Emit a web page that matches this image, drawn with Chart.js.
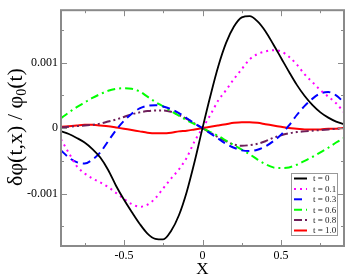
<!DOCTYPE html>
<html>
<head>
<meta charset="utf-8">
<script src="https://cdn.jsdelivr.net/npm/chart.js@4"></script>
<style>
html,body{margin:0;padding:0;background:#fff;}
</style>
</head>
<body>
<canvas id="chart" width="346" height="277"></canvas>
<script>
// x positions of the read-off points
const xs = [-0.9,-0.85,-0.8,-0.75,-0.7,-0.65,-0.6,-0.55,-0.5,-0.45,-0.4,-0.35,-0.3,-0.25,-0.2,-0.15,-0.1,-0.05,0,
  0.05,0.1,0.15,0.2,0.25,0.3,0.35,0.4,0.45,0.5,0.55,0.6,0.65,0.7,0.75,0.8,0.85,0.9];

const t0 = [-0.00005,-0.00009,-0.00015,-0.00022,-0.00032,-0.00045,-0.00064,-0.00088,-0.00109,-0.00128,-0.00146,-0.00161,-0.00169,-0.0017,-0.00157,-0.00133,-0.00097,-0.00051,0,
  0.00049,0.00094,0.0013,0.00155,0.00169,0.00171,0.00163,0.00148,0.00128,0.00107,0.00086,0.00066,0.00049,0.00035,0.00024,0.00016,0.0001,0.00006];
const t01 = [-0.00017,-0.00038,-0.00058,-0.00069,-0.00077,-0.00083,-0.0009,-0.00099,-0.00108,-0.00116,-0.0012,-0.00117,-0.00107,-0.00092,-0.00077,-0.00063,-0.00045,-0.0002,0,
  0.0002,0.00042,0.00058,0.00075,0.0009,0.00105,0.00113,0.00117,0.00119,0.00117,0.00109,0.00097,0.00082,0.0007,0.00058,0.00048,0.00038,0.00024];
const t03 = [-0.00034,-0.00045,-0.00052,-0.00054,-0.00048,-0.00037,-0.0002,-0.00003,0.00011,0.00022,0.0003,0.00034,0.00035,0.00033,0.00029,0.00023,0.00015,0.00007,0,
  -0.00008,-0.00016,-0.00024,-0.0003,-0.00034,-0.00035,-0.00033,-0.00028,-0.0002,-0.0001,0.00004,0.0002,0.00034,0.00045,0.00053,0.00055,0.0005,0.00039];
const t06 = [0.00015,0.00024,0.00032,0.00039,0.00046,0.00052,0.00057,0.0006,0.00061,0.0006,0.00056,0.00048,0.0004,0.00033,0.00026,0.00019,0.00012,0.00006,0,
  -0.00006,-0.00012,-0.00019,-0.00026,-0.00033,-0.0004,-0.00048,-0.00055,-0.0006,-0.00061,-0.0006,-0.00056,-0.0005,-0.00044,-0.00037,-0.0003,-0.00022,-0.00015];
const t08 = [0.00001,0.00002,0.00003,0.00004,0.00005,0.00007,0.0001,0.00013,0.00017,0.00021,0.00024,0.00026,0.00027,0.00027,0.00025,0.0002,0.00014,0.00007,0,
  -0.00007,-0.00014,-0.0002,-0.00025,-0.00027,-0.00026,-0.00024,-0.0002,-0.00015,-0.00011,-0.00008,-0.00006,-0.00005,-0.00004,-0.00003,-0.00002,-0.00001,0];
const t10 = [0.00002,0.00003,0.00004,0.00005,0.00005,0.00004,0.00003,0.00001,-0.00001,-0.00003,-0.00005,-0.00007,-0.00008,-0.00008,-0.00007,-0.00005,-0.00004,-0.00002,0,
  0.00002,0.00004,0.00006,0.00008,0.00009,0.00009,0.00008,0.00006,0.00004,0.00002,0,-0.00001,-0.00002,-0.00002,-0.00002,-0.00001,-0.00001,0];

const labels = ["t = 0","t = 0.1","t = 0.3","t = 0.6","t = 0.8","t = 1.0"];
const xMajor = [-0.5,0,0.5];
const xMinor = [-0.75,-0.25,0.25,0.75];
const yMajor = [-0.001,0,0.001];
const yMinor = [-0.0015,-0.0005,0.0005,0.0015];

function pts(arr){ return arr.map((v,i)=>({x:xs[i],y:v})); }

const serif = "'Liberation Serif','Times New Roman',serif";

const deco = {
  id:'deco',
  afterDatasetsDraw(chart){
    const {ctx, chartArea:a, scales:{x,y}} = chart;
    ctx.save();
    ctx.strokeStyle='#8a8a8a';
    ctx.lineWidth=1;
    ctx.beginPath();
    for (const v of xMajor.concat(xMinor)){
      const px = Math.round(x.getPixelForValue(v))+0.5;
      const len = xMajor.includes(v)?6:3;
      ctx.moveTo(px,a.bottom); ctx.lineTo(px,a.bottom-len);
      ctx.moveTo(px,a.top); ctx.lineTo(px,a.top+len);
    }
    for (const v of yMajor.concat(yMinor)){
      const py = Math.round(y.getPixelForValue(v))+0.5;
      const len = yMajor.includes(v)?6:3;
      ctx.moveTo(a.left,py); ctx.lineTo(a.left+len,py);
      ctx.moveTo(a.right,py); ctx.lineTo(a.right-len,py);
    }
    ctx.stroke();
    ctx.lineWidth=2;
    ctx.strokeRect(a.left,a.top,a.right-a.left,a.bottom-a.top);

    // legend box
    const lx=291, ly=173, lw=46, lh=62;
    ctx.fillStyle='#fff';
    ctx.fillRect(lx,ly,lw,lh);
    ctx.lineWidth=1;
    ctx.strokeStyle='#999';
    ctx.strokeRect(lx+0.5,ly+0.5,lw,lh);
    ctx.font="9px "+serif;
    ctx.textBaseline='middle';
    chart.data.datasets.forEach((ds,i)=>{
      const yy = 178.5+i*10.4;
      ctx.strokeStyle=ds.borderColor;
      ctx.lineWidth=2;
      ctx.setLineDash(ds.borderDash||[]);
      ctx.beginPath(); ctx.moveTo(294,yy); ctx.lineTo(307,yy); ctx.stroke();
      ctx.setLineDash([]);
      ctx.fillStyle='#222';
      ctx.fillText(ds.label,313,yy+0.5);
    });

    // axis titles
    ctx.fillStyle='#000';
    ctx.font="17px "+serif;
    ctx.textAlign='center';
    ctx.textBaseline='middle';
    ctx.fillText('X',(a.left+a.right)/2,270);

    ctx.translate(16,127);
    ctx.rotate(-Math.PI/2);
    const big="22px "+serif, small="14px "+serif;
    const p1="\u03b4\u03c6(t,x) / \u03c6", p2="0", p3="(t)";
    ctx.font=big; const w1=ctx.measureText(p1).width, w3=ctx.measureText(p3).width;
    ctx.font=small; const w2=ctx.measureText(p2).width;
    let sx=-(w1+w2+w3)/2;
    ctx.textAlign='left';
    ctx.font=big; ctx.fillText(p1,sx,0); sx+=w1;
    ctx.font=small; ctx.fillText(p2,sx,6); sx+=w2;
    ctx.font=big; ctx.fillText(p3,sx,0);
    ctx.restore();
  }
};

new Chart(document.getElementById("chart"), {
  type: "line",
  data: {
    datasets: [
      {label: labels[0], data: pts(t0), borderColor: "#000000", borderWidth: 1.8},
      {label: labels[1], data: pts(t01), borderColor: "#ff00ff", borderWidth: 2, borderDash: [2,4]},
      {label: labels[2], data: pts(t03), borderColor: "#0000ff", borderWidth: 2, borderDash: [8,5]},
      {label: labels[3], data: pts(t06), borderColor: "#00ff00", borderWidth: 2, borderDash: [8,4,2,4]},
      {label: labels[4], data: pts(t08), borderColor: "#6e1f5a", borderWidth: 2, borderDash: [8,3,2,3,2,3]},
      {label: labels[5], data: pts(t10), borderColor: "#ff0000", borderWidth: 2}
    ]
  },
  options: {
    responsive: false,
    animation: false,
    devicePixelRatio: 1,
    layout: {padding: {top: 1, right: 2, left: 0, bottom: 0}},
    elements: {point: {radius: 0}, line: {cubicInterpolationMode: 'monotone', fill: false}},
    plugins: {legend: {display: false}, tooltip: {enabled: false}},
    scales: {
      x: {
        type: 'linear', min: -0.9, max: 0.9,
        grid: {display: false, drawTicks: false},
        border: {display: false},
        afterBuildTicks: s => { s.ticks = xMajor.map(v => ({value: v})); },
        afterFit: s => { s.height = 31; },
        ticks: {padding: 3, color: '#000', font: {family: serif, size: 12},
          callback: v => String(v)}
      },
      y: {
        min: -0.0018, max: 0.0018,
        grid: {display: false, drawTicks: false},
        border: {display: false},
        afterBuildTicks: s => { s.ticks = yMajor.map(v => ({value: v})); },
        afterFit: s => { s.width = 61; },
        ticks: {padding: 3, color: '#000', font: {family: serif, size: 12},
          callback: v => v === 0 ? "0" : String(v)}
      }
    }
  },
  plugins: [deco]
});
</script>
</body>
</html>
